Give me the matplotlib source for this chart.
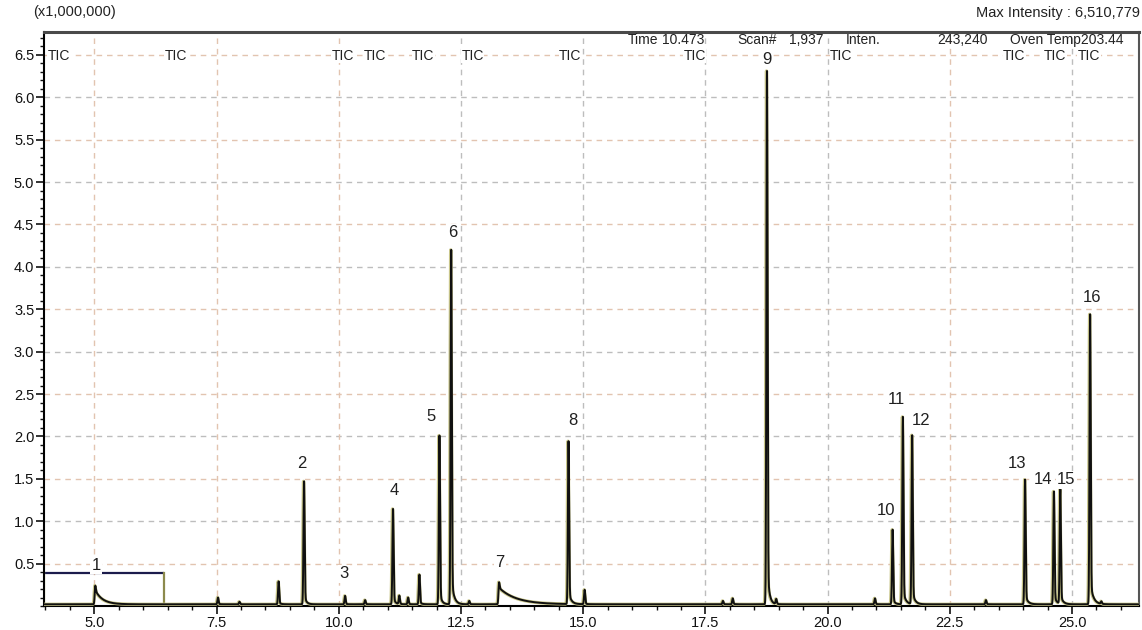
import numpy as np
import matplotlib
matplotlib.use("Agg")
import matplotlib.pyplot as plt
from matplotlib.ticker import MultipleLocator, FixedLocator

plt.rcParams['font.family'] = ['Liberation Sans', 'DejaVu Sans']

# Peak table: retention time (min), height (x1,000,000 counts), tailing constant (min)
peak_rt = [5.02, 7.53, 7.97, 8.77, 9.29, 10.13, 10.54, 11.11, 11.24, 11.42, 11.65,
           12.06, 12.30, 12.67, 13.28, 14.70, 15.03, 17.86, 18.06, 18.76, 18.95,
           20.97, 21.33, 21.54, 21.73, 23.24, 24.04, 24.63, 24.76, 25.37, 25.60]
peak_height = [0.22, 0.08, 0.03, 0.27, 1.45, 0.10, 0.05, 1.125, 0.10, 0.08, 0.35,
               1.99, 4.18, 0.04, 0.26, 1.92, 0.17, 0.04, 0.07, 6.29, 0.06,
               0.07, 0.88, 2.21, 1.99, 0.05, 1.47, 1.33, 1.35, 3.42, 0.03]
peak_tail = [0.15, 0.03, 0.03, 0.04, 0.04, 0.03, 0.04, 0.04, 0.03, 0.03, 0.04,
             0.04, 0.05, 0.04, 0.35, 0.05, 0.03, 0.04, 0.05, 0.04, 0.03,
             0.04, 0.04, 0.05, 0.05, 0.04, 0.05, 0.05, 0.05, 0.06, 0.04]
baseline_level = 0.02

# Numbered compound labels: text, x (min), y (x1,000,000)
label_text = [str(i) for i in range(1, 17)]
label_x = [5.04, 9.25, 10.11, 11.14, 11.88, 12.34, 13.30, 14.79, 18.76,
           21.20, 21.40, 21.91, 23.88, 24.40, 24.88, 25.40]
label_y = [0.48, 1.68, 0.38, 1.36, 2.24, 4.40, 0.51, 2.19, 6.45,
           1.13, 2.43, 2.19, 1.68, 1.49, 1.49, 3.64]

# Trace-name markers along the top of the plot
tic_x = [4.05, 6.43, 9.85, 10.52, 11.50, 12.51, 14.51, 17.05, 20.05, 23.59, 24.43, 25.12]

x_major_ticks = [5.0, 7.5, 10.0, 12.5, 15.0, 17.5, 20.0, 22.5, 25.0]
y_major_ticks = [0.5, 1.0, 1.5, 2.0, 2.5, 3.0, 3.5, 4.0, 4.5, 5.0, 5.5, 6.0, 6.5]

XMIN, XMAX = 3.97, 26.37
YMIN, YMAX = 0.0, 6.77

# Build the total-ion-current trace from the peak table
t = np.arange(XMIN, XMAX, 0.002)
sigma = 0.012
signal = np.full_like(t, baseline_level)
for rt, h, tau in zip(peak_rt, peak_height, peak_tail):
    d = t - rt
    g = np.exp(-0.5 * (d / sigma) ** 2)
    tail = np.where(d > 0, np.exp(-np.clip(d, 0, None) / tau), 0.0)
    frac = 0.75 if tau > 0.1 else 0.08
    shape = np.where(d <= 0, g, (1 - frac) * g + frac * tail)
    signal += h * shape

fig = plt.figure(figsize=(11.42, 6.30), dpi=100)
ax = fig.add_axes([44 / 1142, 1 - 606 / 630, (1139 - 44) / 1142, (606 - 32) / 630])
ax.set_xlim(XMIN, XMAX)
ax.set_ylim(YMIN, YMAX)

# Dashed grid
grid_tan = '#e2c4b0'
grid_gray = '#bdbdbd'
dash = (0, (4, 3.5))
for i, yv in enumerate(y_major_ticks):
    ax.axhline(yv, color=grid_tan if i % 2 == 0 else grid_gray, lw=1.0,
               linestyle=dash, zorder=0)
x_grid_colors = [grid_tan, grid_tan, grid_tan, grid_gray, grid_gray, grid_gray,
                 grid_gray, grid_tan, grid_gray]
for xv, c in zip(x_major_ticks, x_grid_colors):
    ax.axvline(xv, color=c, lw=1.0, linestyle=dash, zorder=0)

# Solvent-delay box in the lower left
ax.plot([XMIN, 6.43], [0.39, 0.39], color='#1c1c4c', lw=1.6, zorder=2,
        solid_capstyle='butt')
ax.plot([6.43, 6.43], [0.0, 0.39], color='#8c8a4c', lw=1.6, zorder=2)
ax.plot([XMIN + 0.01, XMIN + 0.01], [0.0, 0.39], color='#c8c47c', lw=1.6, zorder=2)

# Trace: khaki shadow line under a dark line
ax.plot(t - 0.01, signal, color='#c9c68a', lw=2.4, zorder=3)
ax.plot(t, signal, color='#101010', lw=1.4, zorder=4)

# Compound numbers
for s, lx, ly in zip(label_text, label_x, label_y):
    ax.text(lx, ly, s, ha='center', va='center', fontsize=12, color='#202020',
            zorder=6, bbox=dict(facecolor='white', edgecolor='none', pad=1.0))

# TIC markers on the 6.5 line
for tx in tic_x:
    ax.text(tx, 6.49, 'TIC', ha='left', va='center', fontsize=10, color='#202020',
            zorder=6, bbox=dict(facecolor='white', edgecolor='none', pad=0.3))

# Axes styling
ax.xaxis.set_major_locator(FixedLocator(x_major_ticks))
ax.xaxis.set_minor_locator(MultipleLocator(0.5))
ax.yaxis.set_major_locator(FixedLocator(y_major_ticks))
ax.yaxis.set_minor_locator(MultipleLocator(0.1))
ax.set_xticklabels([f'{v:.1f}' for v in x_major_ticks])
ax.set_yticklabels([f'{v:.1f}' for v in y_major_ticks])
ax.tick_params(axis='both', which='major', direction='out', length=6, width=1.2,
               labelsize=10.5, colors='#111111', pad=1)
ax.tick_params(axis='both', which='minor', direction='out', length=3, width=1.0,
               colors='#111111')
ax.spines['left'].set_linewidth(1.5)
ax.spines['bottom'].set_linewidth(1.5)
ax.spines['top'].set_color('#4a4a4a')
ax.spines['top'].set_linewidth(2.2)
ax.spines['right'].set_color('#555555')
ax.spines['right'].set_linewidth(1.5)

# Header texts
fig.text(33 / 1142, 1 - 12 / 630, '(x1,000,000)', ha='left', va='center',
         fontsize=10.5, color='#222222')
fig.text(1140 / 1142, 1 - 13 / 630, 'Max Intensity : 6,510,779', ha='right',
         va='center', fontsize=10.5, color='#222222')
header = [('Time', 628), ('10.473', 662), ('Scan#', 737), ('1,937', 789),
          ('Inten.', 846), ('243,240', 937), ('Oven Temp203.44', 1010)]
for s, px in header:
    fig.text(px / 1142, 1 - 40 / 630, s, ha='left', va='center', fontsize=10,
             color='#222222')

fig.savefig('out.png', dpi=100, facecolor='white')
